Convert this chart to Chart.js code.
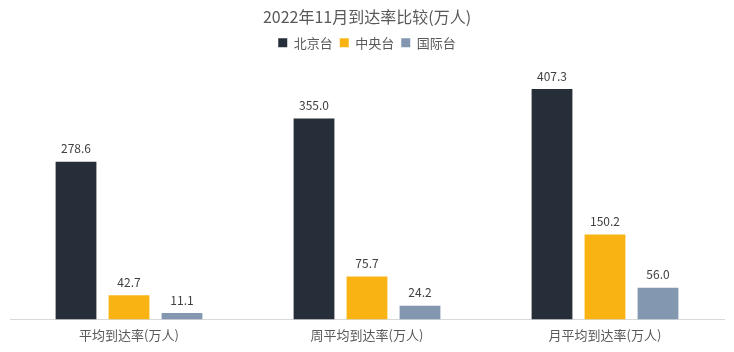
<!DOCTYPE html>
<html>
<head>
<meta charset="utf-8">
<script src="https://cdn.jsdelivr.net/npm/chart.js@4"></script>
<style>
  html, body { margin: 0; padding: 0; background: #fff; }
  #wrap { width: 734px; height: 352px; }
</style>
</head>
<body>
<div id="wrap"><canvas id="myChart" width="734" height="352"></canvas></div>
<script>
const categories = ['平均到达率(万人)', '周平均到达率(万人)', '月平均到达率(万人)'];
const beijing = [278.6, 355.0, 407.3];
const cctv = [42.7, 75.7, 150.2];
const intl = [11.1, 24.2, 56.0];

const FONT = '"Noto Sans CJK SC", "Noto Sans", sans-serif';

// value labels above each bar
const barLabels = {
  id: 'barLabels',
  afterDatasetsDraw(chart) {
    const {ctx} = chart;
    ctx.save();
    ctx.font = '12px ' + FONT;
    ctx.fillStyle = '#404040';
    ctx.textAlign = 'center';
    ctx.textBaseline = 'bottom';
    chart.data.datasets.forEach((ds, i) => {
      chart.getDatasetMeta(i).data.forEach((bar, j) => {
        ctx.fillText(ds.data[j].toFixed(1), bar.x, bar.y - 7);
      });
    });
    ctx.restore();
  }
};

const data = {
  labels: categories,
  datasets: [
    { label: '北京台', data: beijing, backgroundColor: '#262E39' },
    { label: '中央台', data: cctv, backgroundColor: '#F9B414' },
    { label: '国际台', data: intl, backgroundColor: '#8497B0' }
  ]
};

const config = {
  type: 'bar',
  data,
  options: {
    responsive: false,
    animation: false,
    categoryPercentage: 0.668,
    barPercentage: 0.77,
    layout: { padding: { left: 10, right: 10, top: 7, bottom: 1 } },
    plugins: {
      title: {
        display: true,
        text: '2022年11月到达率比较(万人)',
        color: '#595959',
        font: { family: FONT, size: 16, weight: 'normal' },
        padding: { top: 0, bottom: 3 }
      },
      legend: {
        display: true,
        labels: {
          color: '#595959',
          font: { family: FONT, size: 13 },
          boxWidth: 9,
          boxHeight: 9,
          padding: 7
        }
      },
      tooltip: { enabled: false }
    },
    scales: {
      x: {
        grid: { display: false, drawTicks: false },
        border: { display: true, color: '#D9D9D9' },
        ticks: {
          color: '#595959',
          font: { family: FONT, size: 13 },
          padding: 8
        }
      },
      y: {
        display: false,
        min: 0,
        max: 460
      }
    }
  },
  plugins: [barLabels]
};

const myChart = new Chart(document.getElementById('myChart'), config);
</script>
</body>
</html>
